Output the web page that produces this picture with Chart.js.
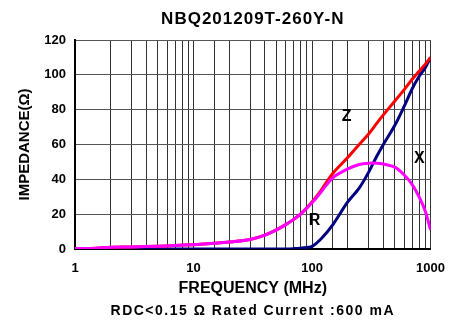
<!DOCTYPE html>
<html>
<head>
<meta charset="utf-8">
<script src="https://cdn.jsdelivr.net/npm/chart.js@4/dist/chart.umd.min.js"></script>
<style>
  html, body { margin: 0; padding: 0; background: #fff; }
  #wrap { width: 457px; height: 323px; }
</style>
</head>
<body>
<div id="wrap"><canvas id="impedance-chart"></canvas></div>
<script>
    "use strict";

    // frequency points (MHz)
    const freqs = [1, 1.5, 2, 3, 5, 7, 10, 15, 20, 30, 40, 50, 60, 70, 80, 100, 120, 150, 200, 250, 300, 350, 400, 500, 600, 700, 800, 900, 1000];
    // impedance values (ohm)
    const zValues = [0.3, 0.5, 1, 1.2, 1.6, 2, 2.5, 3.3, 4, 5.5, 8, 11, 14, 17, 20, 27, 34, 43.5, 52.5, 60, 66, 72, 77, 85, 91.5, 97.5, 102, 106, 110];
    const rValues = [0, 0, 0, 0, 0, 0, 0, 0, 0, 0, 0, 0, 0, 0.2, 0.5, 1.5, 6, 14, 27, 35, 44, 53, 60, 71, 82, 92, 99, 104, 110];
    const xValues = [0.3, 0.5, 1, 1.2, 1.6, 2, 2.5, 3.3, 4, 5.5, 8, 11, 14, 17, 20, 26.5, 33, 41, 46, 48.5, 49.3, 49.3, 48.8, 47, 42.5, 37, 30, 22, 11];
    const xTickLabels = [1, 10, 100, 1000];
    const yTicks = [0, 20, 40, 60, 80, 100, 120];

    // curve labels: [text, freq, value]
    const curveLabels = [['Z', 196, 76], ['R', 105, 16.5], ['X', 806, 52]];

    const chartTitle = 'NBQ201209T-260Y-N';
    const chartNote = 'RDC<0.15 Ω Rated Current :600 mA';

    const font = '"Liberation Sans", Arial, sans-serif';
    const toPoints = (vals) => freqs.map((f, i) => ({x: f, y: vals[i]}));

    const textPlugin = {
        id: 'extraText',
        afterDatasetsDraw(chart) {
            const ctx = chart.ctx;
            const area = chart.chartArea;
            const cx = (area.left + area.right) / 2;
            ctx.save();
            ctx.fillStyle = '#000';
            ctx.textAlign = 'center';
            ctx.textBaseline = 'middle';

            ctx.font = 'bold 16px ' + font;
            curveLabels.forEach(([t, f, v]) => {
                ctx.fillText(t, chart.scales.x.getPixelForValue(f), chart.scales.y.getPixelForValue(v));
            });

            ctx.font = 'bold 17px ' + font;
            ctx.letterSpacing = '1px';
            ctx.fillText(chartTitle, cx, 19);

            ctx.font = 'bold 14px ' + font;
            ctx.letterSpacing = '1.5px';
            ctx.fillText(chartNote, cx, chart.height - 12);
            ctx.restore();
        }
    };

    new Chart(document.getElementById('impedance-chart'), {
        type: 'line',
        data: {
            datasets: [{
                label: 'X',
                data: toPoints(xValues),
                borderColor: '#ff00ff',
                borderWidth: 3,
                pointRadius: 0,
                tension: 0.3,
                order: 0
            }, {
                label: 'Z',
                data: toPoints(zValues),
                borderColor: '#ff0000',
                borderWidth: 3,
                pointRadius: 0,
                tension: 0.3,
                order: 1
            }, {
                label: 'R',
                data: toPoints(rValues),
                borderColor: '#000080',
                borderWidth: 3,
                pointRadius: 0,
                tension: 0.3,
                order: 2
            }]
        },
        options: {
            responsive: true,
            maintainAspectRatio: false,
            animation: false,
            layout: {
                padding: {top: 40, left: 0, right: 26, bottom: 21}
            },
            plugins: {
                legend: {display: false},
                tooltip: {enabled: false}
            },
            scales: {
                x: {
                    type: 'logarithmic',
                    min: 1,
                    max: 1000,
                    afterFit(scale) { scale.height = 53; },
                    grid: {
                        color: '#333',
                        lineWidth: 1,
                        drawTicks: false
                    },
                    border: {color: '#000', width: 2},
                    ticks: {
                        color: '#000',
                        padding: 12,
                        maxRotation: 0,
                        autoSkip: false,
                        font: {family: font, size: 13, weight: 'bold'},
                        callback: (v) => xTickLabels.includes(v) ? String(v) : ''
                    },
                    title: {
                        display: true,
                        text: 'FREQUENCY (MHz)',
                        color: '#000',
                        font: {family: font, size: 16, weight: 'bold', lineHeight: 1.2},
                        padding: {top: 4, bottom: 4}
                    }
                },
                y: {
                    min: 0,
                    max: 120,
                    afterFit(scale) { scale.width = 75; },
                    afterBuildTicks(scale) { scale.ticks = yTicks.map(v => ({value: v})); },
                    grid: {
                        color: '#555',
                        lineWidth: 1,
                        drawTicks: false
                    },
                    border: {color: '#000', width: 2},
                    ticks: {
                        color: '#000',
                        padding: 9,
                        font: {family: font, size: 13, weight: 'bold'}
                    },
                    title: {
                        display: true,
                        text: 'IMPEDANCE(Ω)',
                        color: '#000',
                        font: {family: font, size: 15, weight: 'bold', lineHeight: 1.2},
                        padding: {top: 16, bottom: 0}
                    }
                }
            }
        },
        plugins: [textPlugin]
    });
</script>
</body>
</html>
